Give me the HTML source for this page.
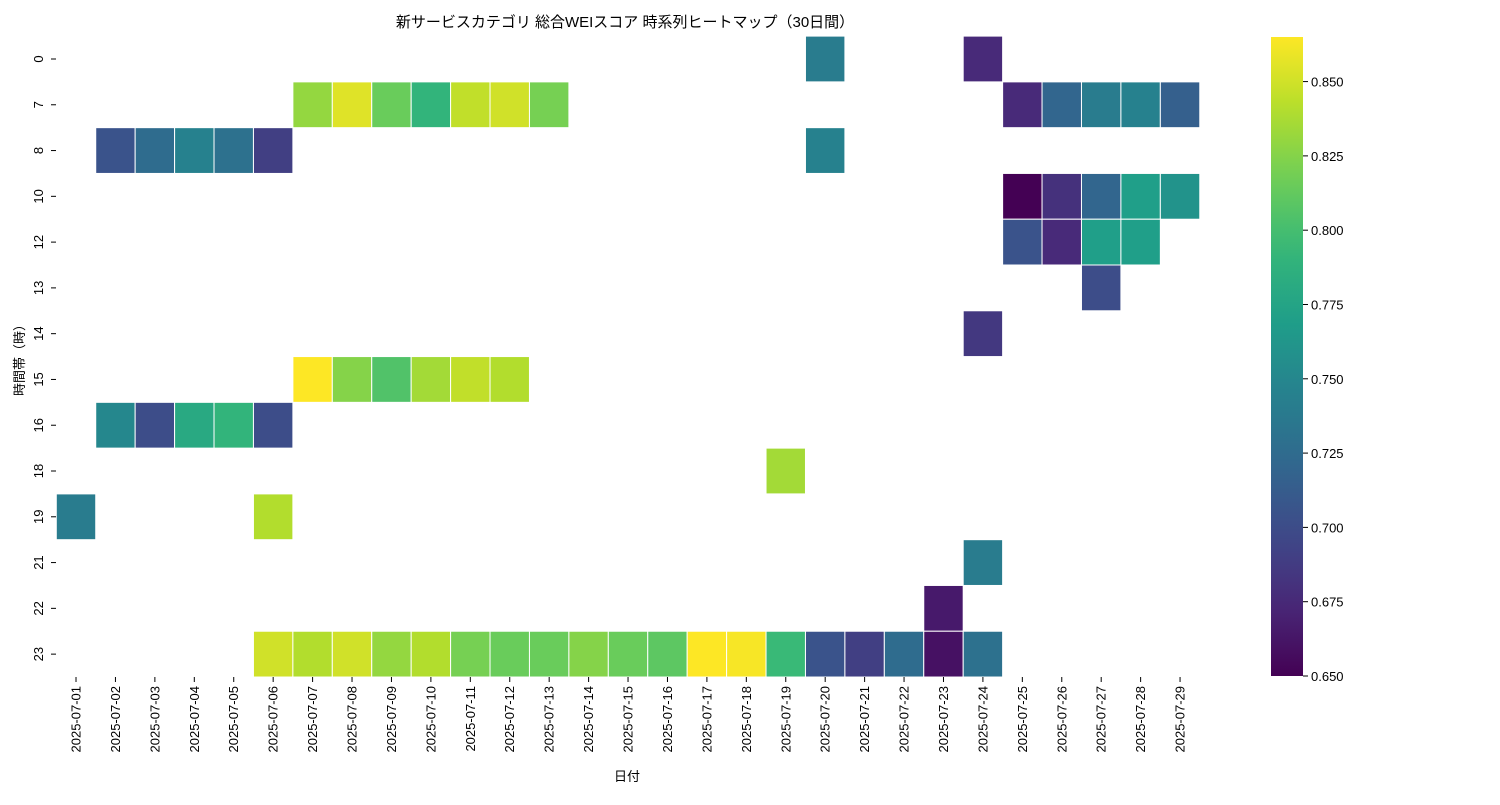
<!DOCTYPE html>
<html><head><meta charset="utf-8">
<style>
html,body{margin:0;padding:0;background:#fff;}
svg text{font-family:"Liberation Sans","Noto Sans CJK JP",sans-serif;fill:#000;}
</style></head>
<body>
<svg id="chart" width="1500" height="800" xmlns="http://www.w3.org/2000/svg">
<text x="625" y="27" font-size="15" text-anchor="middle">新サービスカテゴリ 総合WEIスコア 時系列ヒートマップ（30日間）</text>
<g id="cells"></g>
<g id="xt"></g>
<g id="yt"></g>
<text x="627" y="781" font-size="13" text-anchor="middle">日付</text>
<text transform="translate(24,357) rotate(-90)" font-size="13" text-anchor="middle">時間帯（時）</text>
<defs><linearGradient id="cg" x1="0" y1="1" x2="0" y2="0"></linearGradient></defs>
<rect x="1271" y="37" width="32" height="639" fill="url(#cg)"/>
<g id="ct"></g>
</svg>
<script>
const dates=[];for(let d=1;d<=29;d++)dates.push('2025-07-'+String(d).padStart(2,'0'));
const hours=[0,7,8,10,12,13,14,15,16,18,19,21,22,23];
const cbTicks=[0.650,0.675,0.700,0.725,0.750,0.775,0.800,0.825,0.850];
const vmin=0.65, vmax=0.865;
// [hour, day, value]
const cellsData=[
[0,20,0.74],[0,24,0.675],
[7,7,0.83],[7,8,0.855],[7,9,0.815],[7,10,0.79],[7,11,0.845],[7,12,0.85],[7,13,0.82],[7,25,0.675],[7,26,0.72],[7,27,0.74],[7,28,0.745],[7,29,0.715],
[8,2,0.705],[8,3,0.725],[8,4,0.745],[8,5,0.73],[8,6,0.69],[8,20,0.745],
[10,25,0.65],[10,26,0.68],[10,27,0.72],[10,28,0.77],[10,29,0.76],
[12,25,0.705],[12,26,0.675],[12,27,0.77],[12,28,0.77],
[13,27,0.70],[14,24,0.685],
[15,7,0.865],[15,8,0.825],[15,9,0.805],[15,10,0.835],[15,11,0.845],[15,12,0.84],
[16,2,0.75],[16,3,0.70],[16,4,0.78],[16,5,0.79],[16,6,0.70],
[18,19,0.835],[19,1,0.74],[19,6,0.84],[21,24,0.74],[22,23,0.665],
[23,6,0.85],[23,7,0.84],[23,8,0.85],[23,9,0.83],[23,10,0.84],[23,11,0.82],[23,12,0.815],[23,13,0.815],[23,14,0.825],[23,15,0.815],[23,16,0.81],[23,17,0.865],[23,18,0.863],[23,19,0.795],[23,20,0.705],[23,21,0.69],[23,22,0.725],[23,23,0.66],[23,24,0.73]
];
const vir=[[68,1,84],[72,40,120],[62,74,137],[49,104,142],[38,130,142],[31,158,137],[53,183,121],[110,206,88],[181,222,43],[253,231,37]];
function color(v){let t=Math.max(0,Math.min(1,(v-vmin)/(vmax-vmin)))*(vir.length-1);let i=Math.min(Math.floor(t),vir.length-2),f=t-i;
const c=vir[i].map((a,k)=>Math.round(a+(vir[i+1][k]-a)*f));return`rgb(${c[0]},${c[1]},${c[2]})`;}
const X0=56.3,CW=39.43,Y0=36.1,RH=45.78;
const xPos=d=>X0+(d-1)*CW, yPos=h=>Y0+hours.indexOf(h)*RH;
const NS='http://www.w3.org/2000/svg';
function mk(t,a,p){const e=document.createElementNS(NS,t);for(const k in a)e.setAttribute(k,a[k]);p.appendChild(e);return e;}
const cells=document.getElementById('cells');
cellsData.forEach(([h,d,v])=>{const r=mk('rect',{x:xPos(d),y:yPos(h),width:CW,height:RH,fill:color(v),stroke:'#fff','stroke-width':1},cells);

});
const xt=document.getElementById('xt');
dates.forEach((s,i)=>{const cx=xPos(i+1)+CW/2;mk('line',{x1:cx,x2:cx,y1:677,y2:682,stroke:'#000'},xt);
const t=mk('text',{transform:`translate(${cx+4.5},686) rotate(-90)`,'font-size':13,'text-anchor':'end'},xt);t.textContent=s;

});
const yt=document.getElementById('yt');
hours.forEach(h=>{const cy=yPos(h)+RH/2;mk('line',{x1:51,x2:56,y1:cy,y2:cy,stroke:'#000'},yt);
const t=mk('text',{transform:`translate(43,${cy}) rotate(-90)`,'font-size':13,'text-anchor':'middle'},yt);t.textContent=h;

});
const g=document.getElementById('cg');
for(let i=0;i<=20;i++){const v=vmin+(vmax-vmin)*i/20;mk('stop',{offset:(i/20),'stop-color':color(v)},g);}
const ct=document.getElementById('ct');
cbTicks.forEach(v=>{const y=676-(v-vmin)/(vmax-vmin)*639;mk('line',{x1:1303,x2:1308,y1:y,y2:y,stroke:'#000'},ct);
const t=mk('text',{x:1311,y:y+5,'font-size':13},ct);t.textContent=v.toFixed(3);

});
</script>
</body></html>
